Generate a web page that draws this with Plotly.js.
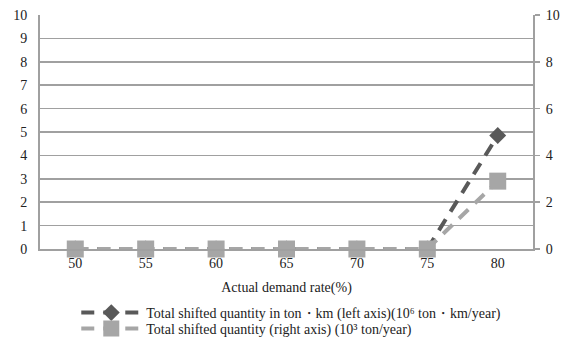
<!DOCTYPE html>
<html><head><meta charset="utf-8">
<script src="https://cdn.plot.ly/plotly-3.0.1.min.js"></script>
<style>body{margin:0;background:#fff}#c{width:565px;height:340px}</style>
</head><body><div id="c"></div>
<script>
const categories = ['50','55','60','65','70','75','80'];
const tonKm = [0, 0, 0, 0, 0, 0, 4.85];
const tons = [0, 0, 0, 0, 0, 0, 2.9];
const leftTicks = [0,1,2,3,4,5,6,7,8,9,10];
const rightTicks = [0,2,4,6,8,10];
const name1 = 'Total shifted quantity in ton・km (left axis)(10⁶ ton・km/year)';
const name2 = 'Total shifted quantity (right axis) (10³ ton/year)';

const font = {family: 'Liberation Serif, Times New Roman, serif', size: 14, color: '#222'};
const lfont = {family: font.family, size: 14, color: '#222'};
const data = [
  {x: categories, y: tonKm, name: name1, type: 'scatter', mode: 'lines+markers', yaxis: 'y',
   legend: 'legend', cliponaxis: false,
   line: {color: '#595959', width: 4, dash: '13px,9px'},
   marker: {symbol: 'diamond', size: 13, color: '#595959'}},
  {x: categories, y: tons, name: name2, type: 'scatter', mode: 'lines+markers', yaxis: 'y2',
   legend: 'legend2', cliponaxis: false,
   line: {color: '#a6a6a6', width: 4, dash: '13px,9px'},
   marker: {symbol: 'square', size: 17, color: '#a6a6a6'}}
];
const legCommon = {orientation: 'v', xref: 'container', yref: 'container', x: 0.135,
  xanchor: 'left', yanchor: 'middle', font: lfont, itemwidth: 60, bgcolor: 'rgba(0,0,0,0)'};
const layout = {
  width: 565, height: 340,
  margin: {l: 40, r: 32, t: 15, b: 91, autoexpand: false},
  paper_bgcolor: '#fff', plot_bgcolor: '#fff',
  font: font,
  showlegend: true,
  xaxis: {type: 'category', showline: true, linecolor: '#a0a0a0', linewidth: 2,
          showgrid: false, ticks: '', tickfont: font, fixedrange: true,
          title: {text: 'Actual demand rate(%)', font: font, standoff: 12}},
  yaxis: {range: [0, 10], tickvals: leftTicks, showline: true, linecolor: '#a0a0a0', linewidth: 2,
          showgrid: true, gridcolor: '#a0a0a0', gridwidth: 1.5, zeroline: false, ticks: '',
          ticklen: 0, tickfont: font, ticklabelstandoff: 8},
  yaxis2: {range: [0, 10], tickvals: rightTicks, overlaying: 'y', side: 'right', showline: true,
           linecolor: '#a0a0a0', linewidth: 2, showgrid: false, zeroline: false,
           ticks: 'outside', ticklen: 5, tickcolor: '#a0a0a0', tickwidth: 1.5, tickfont: font,
           ticklabelstandoff: 3},
  legend: Object.assign({}, legCommon, {y: 1 - 313/340}),
  legend2: Object.assign({}, legCommon, {y: 1 - 329/340})
};
Plotly.newPlot('c', data, layout, {staticPlot: true});
</script></body></html>
